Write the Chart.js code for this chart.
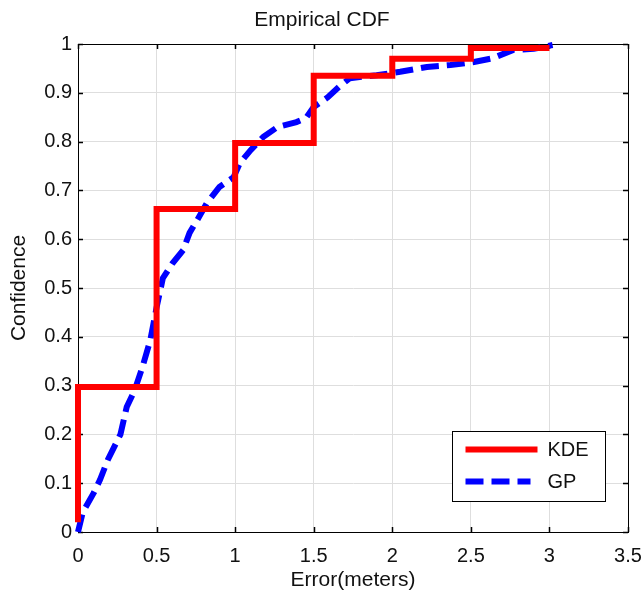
<!DOCTYPE html>
<html>
<head>
<meta charset="utf-8">
<title>Empirical CDF</title>
<script src="https://cdn.jsdelivr.net/npm/chart.js@4/dist/chart.umd.min.js"></script>
<style>
  html, body { margin: 0; padding: 0; background: #fff; }
  #wrap { width: 644px; height: 596px; }
</style>
</head>
<body>
<div id="wrap"><canvas id="cdfChart" width="644" height="596"></canvas></div>
<script>
// KDE: step CDF
var kdeX = [0, 0, 0.5, 1, 1.5, 2, 2.5, 3];
var kdeY = [0.02, 0.297, 0.662, 0.797, 0.935, 0.97, 0.992, 0.992];

// GP: smooth CDF
var gpX = [0, 0.03, 0.1, 0.14, 0.19, 0.27, 0.31, 0.36, 0.41, 0.46, 0.5, 0.54, 0.6, 0.67, 0.71, 0.76, 0.82, 0.9, 0.99, 1.03, 1.1, 1.18, 1.27, 1.39, 1.45, 1.5, 1.59, 1.66, 1.73, 1.9, 2.05, 2.22, 2.37, 2.52, 2.64, 2.77, 2.9, 3.02];
var gpY = [0, 0.04, 0.08, 0.107, 0.148, 0.2, 0.256, 0.29, 0.338, 0.393, 0.46, 0.52, 0.55, 0.578, 0.613, 0.64, 0.674, 0.707, 0.727, 0.756, 0.783, 0.81, 0.83, 0.84, 0.848, 0.871, 0.891, 0.912, 0.93, 0.936, 0.943, 0.953, 0.957, 0.963, 0.971, 0.988, 0.99, 0.998];

var xTickLabels = ['0', '0.5', '1', '1.5', '2', '2.5', '3', '3.5'];
var yTickLabels = ['0', '0.1', '0.2', '0.3', '0.4', '0.5', '0.6', '0.7', '0.8', '0.9', '1'];

var FONT = "'Liberation Sans', Arial, Helvetica, sans-serif";
var INK = '#111';

function toPoints(xs, ys) {
    return xs.map(function (x, i) { return { x: x, y: ys[i] }; });
}

// axes box with small inward ticks on all four sides
var boxPlugin = {
    id: 'box',
    beforeDatasetsDraw: function (chart) {
        var ctx = chart.ctx, a = chart.chartArea;
        var xs = chart.scales.x, ys = chart.scales.y;
        var len = 5;
        ctx.save();
        ctx.strokeStyle = '#000';
        ctx.lineWidth = 1;
        ctx.strokeRect(Math.round(a.left) + 0.5, Math.round(a.top) + 0.5,
            Math.round(a.right - a.left), Math.round(a.bottom - a.top));
        ctx.lineWidth = 1.5;
        ctx.beginPath();
        xs.ticks.forEach(function (t) {
            var px = Math.round(xs.getPixelForValue(t.value)) + 0.5;
            ctx.moveTo(px, a.bottom); ctx.lineTo(px, a.bottom - len);
            ctx.moveTo(px, a.top); ctx.lineTo(px, a.top + len);
        });
        ys.ticks.forEach(function (t) {
            var py = Math.round(ys.getPixelForValue(t.value)) + 0.5;
            ctx.moveTo(a.left, py); ctx.lineTo(a.left + len, py);
            ctx.moveTo(a.right, py); ctx.lineTo(a.right - len, py);
        });
        ctx.stroke();
        ctx.restore();
    }
};

// legend box in the lower right of the plot
var legendBox = {
    id: 'legendBox',
    afterDraw: function (chart) {
        var ctx = chart.ctx;
        var bx = 452.5, by = 431.5, bw = 153, bh = 70;
        ctx.save();
        ctx.fillStyle = '#fff';
        ctx.fillRect(bx, by, bw, bh);
        ctx.strokeStyle = '#000';
        ctx.lineWidth = 1;
        ctx.strokeRect(bx, by, bw, bh);
        chart.data.datasets.forEach(function (ds, i) {
            var y = by + 18 + i * 32;
            ctx.strokeStyle = ds.borderColor;
            ctx.lineWidth = ds.borderWidth;
            ctx.setLineDash(ds.borderDash || []);
            ctx.beginPath();
            ctx.moveTo(bx + 13, y);
            ctx.lineTo(bx + (ds.borderDash ? 78 : 85), y);
            ctx.stroke();
            ctx.setLineDash([]);
            ctx.fillStyle = INK;
            ctx.font = '20px ' + FONT;
            ctx.textBaseline = 'middle';
            ctx.fillText(ds.label, bx + 95, y + 1);
        });
        ctx.restore();
    }
};

new Chart(document.getElementById('cdfChart'), {
    type: 'scatter',
    data: {
        datasets: [{
            label: 'KDE',
            data: toPoints(kdeX, kdeY),
            showLine: true,
            stepped: true,
            borderColor: '#ff0000',
            borderWidth: 6,
            pointRadius: 0,
            clip: false
        }, {
            label: 'GP',
            data: toPoints(gpX, gpY),
            showLine: true,
            borderColor: '#0000ff',
            borderWidth: 6,
            borderDash: [18, 8],
            tension: 0,
            pointRadius: 0,
            clip: false
        }]
    },
    options: {
        responsive: false,
        animation: false,
        layout: { padding: { left: 0, right: 0, top: 0, bottom: 0 } },
        plugins: {
            legend: { display: false },
            tooltip: { enabled: false },
            title: {
                display: true,
                text: 'Empirical CDF',
                color: INK,
                font: { family: FONT, size: 21, weight: 'normal' },
                padding: { top: 8, bottom: 10.8 }
            }
        },
        scales: {
            x: {
                type: 'linear',
                min: 0,
                max: 3.5,
                afterFit: function (s) {
                    s.height = 64;
                    s.paddingRight = 16;
                },
                ticks: {
                    stepSize: 0.5,
                    padding: 12,
                    color: INK,
                    maxRotation: 0,
                    font: { family: FONT, size: 20 },
                    callback: function (v, i) { return xTickLabels[i]; }
                },
                grid: { color: '#dedede', drawTicks: false },
                border: { color: '#000', width: 1 },
                title: {
                    display: true,
                    text: 'Error(meters)',
                    color: INK,
                    font: { family: FONT, size: 21 },
                    padding: { top: 0, bottom: 2.7 }
                }
            },
            y: {
                type: 'linear',
                min: 0,
                max: 1,
                afterFit: function (s) { s.width = 78; },
                ticks: {
                    stepSize: 0.1,
                    padding: 6,
                    color: INK,
                    font: { family: FONT, size: 20 },
                    callback: function (v, i) { return yTickLabels[i]; }
                },
                grid: { color: '#dedede', drawTicks: false },
                border: { color: '#000', width: 1 },
                title: {
                    display: true,
                    text: 'Confidence',
                    color: INK,
                    font: { family: FONT, size: 21 },
                    padding: { top: 7, bottom: 0 }
                }
            }
        }
    },
    plugins: [boxPlugin, legendBox]
});
</script>
</body>
</html>
